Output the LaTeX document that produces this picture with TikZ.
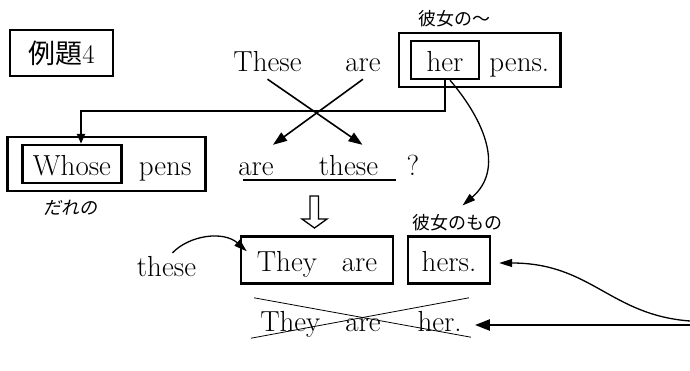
\documentclass[tikz,border=0pt]{standalone}
\usepackage{fontspec}
\usepackage{tikz}
\newfontfamily\jp{Noto Sans CJK JP}
\newfontfamily\jpslant[FakeSlant=0.2]{Noto Sans CJK JP}
\usetikzlibrary{
    positioning,
    fit,
    calc,
    arrows.meta
}
\tikzset{
  word/.style = {
      font=\fontsize{29}{33}\selectfont,
      inner sep=0pt,
      text height=30pt,
      text depth=8pt
  },
  wordbox/.style = {
      word,
      draw,
      line width=2.4pt,
      inner xsep=8pt,
      minimum height=38pt
  },
  tallbox/.style = {
      wordbox,
      minimum height=47pt
  },
  outerbox/.style = {
      draw,
      line width=2.4pt,
      inner xsep=11pt,
      inner ysep=7pt
  },
  jnote/.style = {
      font=\jp\fontsize{18}{21}\selectfont,
      inner sep=1pt
  },
  jslant/.style = {
      jnote,
      font=\jpslant\fontsize{18}{21}\selectfont
  },
  elbow/.style = {
      line width=2.2pt,
      -{Triangle[length=10pt,width=8pt]}
  },
  swapline/.style = {
      line width=1.6pt,
      -{Triangle[length=14pt,width=10pt]}
  },
  curvy/.style = {
      line width=1.3pt,
      -{Triangle[length=13pt,width=8pt]}
  },
  flatarrow/.style = {
      line width=2.4pt,
      -{Triangle[length=15pt,width=11pt]}
  },
  strikeline/.style = {
      line width=0.8pt
  }
}

\begin{document}
\begin{tikzpicture}[x=1pt,y=-1pt]
    \useasboundingbox (0,0) rectangle (690,370);
    % Title
    \node[draw, line width=2.4pt, minimum width=103pt, minimum height=46pt,
          font=\fontsize{27}{30}\selectfont] (title) at (61.5,53) {{\jp 例題}4};
    % Top row
    \node[word] (These) at (267.5,60) {These};
    \node[word] (are1) at (363,60) {are};
    \node[wordbox, minimum width=68pt] (her) at (445,60) {her};
    \node[word, right=9pt of her] (pens1) {pens.};
    \node[outerbox, fit=(her)(pens1)] (herpens) {};
    \node[jnote] (hernote) at (454,19) {彼女の～};
    % Question row
    \node[wordbox, minimum width=99pt] (Whose) at (72,164) {Whose};
    \node[word, right=16pt of Whose] (pens2) {pens};
    \node[outerbox, inner xsep=14pt, fit=(Whose)(pens2)] (whosepens) {};
    \node[jslant] (whosenote) at (70.5,208) {だれの};
    \node[word] (are2) at (256,164) {are};
    \node[word] (these2) at (348.5,164) {these};
    \node[word] (qmark) at (413,164) {?};
    % Answer rows
    \node[jnote] (hersnote) at (457.5,223) {彼女のもの};
    \node[tallbox, minimum width=152pt] (theyare) at (317,260) {They\hspace{25pt}are};
    \node[tallbox, minimum width=82pt] (hers) at (449,260) {hers.};
    \node[word] (these3) at (166.5,265) {these};
    \node[word] (struck) at (361,320) {They\hspace{25pt}are\hspace{37pt}her.};
    \coordinate (rim1) at (690,321);
    \coordinate (rim2) at (690,325);
    % Edges
    \draw[elbow] (her.south) -- ++(0,31) -| ([xshift=9pt]Whose.north);
    \draw[swapline] (These.south) -- ([xshift=14pt]these2.north);
    \draw[swapline] (are1.south) -- ([xshift=17pt]are2.north);
    \draw[line width=2pt] ([xshift=5pt,yshift=-5pt]are2.base west)
        -- ([xshift=18pt,yshift=-5pt]these2.base east);
    \draw[line width=1.3pt] (310,196) -- (310,219) -- (302,219) -- (314.5,228)
        -- (327,219) -- (318.5,219) -- (318.5,196) -- cycle;
    \draw[curvy] ([xshift=5pt]her.south) .. controls +(35,41) and +(42,-36)
        .. ([xshift=5pt,yshift=8pt]hersnote.north);
    \draw[curvy] ([xshift=6pt,yshift=-7pt]these3.north) .. controls +(17.5,-18) and +(-23,-20.5)
        .. ([xshift=7pt,yshift=-16pt]theyare.north west);
    \draw[curvy] (rim1) .. controls +(-80,-6) and +(92,0)
        .. ([xshift=8pt,yshift=-3pt]hers.east);
    \draw[flatarrow] (rim2) -- ([xshift=13pt,yshift=-5pt]struck.east);
    \draw[strikeline] ([xshift=-6pt,yshift=3pt]struck.north west)
        -- ([xshift=9pt,yshift=2pt]struck.south east);
    \draw[strikeline] ([xshift=-9pt,yshift=1pt]struck.south west)
        -- ([xshift=7pt,yshift=3pt]struck.north east);
\end{tikzpicture}
\end{document}
